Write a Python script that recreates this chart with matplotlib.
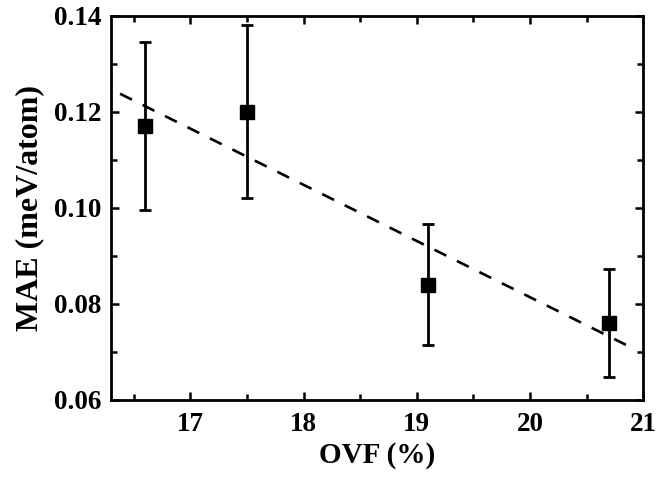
import numpy as np
import matplotlib
matplotlib.use("Agg")
import matplotlib.pyplot as plt
from matplotlib.ticker import MultipleLocator

# data
ovf = np.array([16.6, 17.5, 19.1, 20.7])
mae = np.array([0.117, 0.120, 0.084, 0.076])
mae_err = np.array([0.0175, 0.018, 0.0126, 0.0112])
fit_range = [16.38, 20.9]

plt.rcParams['font.family'] = ['Liberation Serif', 'DejaVu Serif']
plt.rcParams['font.weight'] = 'bold'

fig = plt.figure(figsize=(6.57, 4.79), dpi=100)
ax = fig.add_axes([0.169, 0.165, 0.810, 0.802])

ax.errorbar(ovf, mae, yerr=mae_err, fmt='s', color='black', ms=9.5,
            elinewidth=2, capsize=4, capthick=2, zorder=3)

# linear fit
k, b = np.polyfit(ovf, mae, 1)
xf = np.array(fit_range)
ax.plot(xf, k * xf + b, color='black', lw=1.9, ls=(0, (5, 4.5)))

ax.set_xlim(16.3, 21)
ax.set_ylim(0.06, 0.14)
ax.xaxis.set_major_locator(MultipleLocator(1))
ax.xaxis.set_minor_locator(MultipleLocator(0.5))
ax.yaxis.set_major_locator(MultipleLocator(0.02))
ax.yaxis.set_minor_locator(MultipleLocator(0.01))
ax.yaxis.set_major_formatter(plt.FormatStrFormatter('%.2f'))

ax.tick_params(which='both', direction='in', top=True, right=True,
               width=1.8, labelsize=19.5)
ax.tick_params(axis='x', pad=9)
ax.tick_params(axis='y', pad=7)
ax.tick_params(which='major', length=6)
ax.tick_params(which='minor', length=4)
for s in ax.spines.values():
    s.set_linewidth(2)

ax.set_xlabel('OVF (%)', fontsize=21, fontweight='bold', labelpad=3)
ax.set_ylabel('MAE (meV/atom)', fontsize=23, fontweight='bold', labelpad=7)

fig.savefig('out.png', dpi=100)
